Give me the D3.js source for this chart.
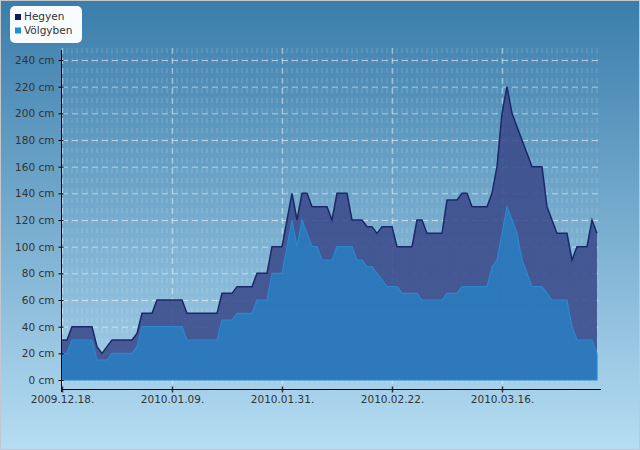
<!DOCTYPE html>
<html>
<head>
<meta charset="utf-8">
<script src="https://cdn.jsdelivr.net/npm/d3@7"></script>
<style>
  body { margin: 0; }
  svg { display: block; font-family: "DejaVu Sans", sans-serif; }
</style>
</head>
<body>
<svg width="640" height="450"></svg>
<script>
// snow depth, one value per day starting 2009.12.18.
const startDate = "2009.12.18.";
const seriesNames = ["Hegyen", "Völgyben"];
const hegyen = [30, 30, 40, 40, 40, 40, 40, 25, 20, 25,
  30, 30, 30, 30, 30, 35, 50, 50, 50, 60,
  60, 60, 60, 60, 60, 50, 50, 50, 50, 50,
  50, 50, 65, 65, 65, 70, 70, 70, 70, 80,
  80, 80, 100, 100, 100, 120, 140, 120, 140, 140,
  130, 130, 130, 130, 120, 140, 140, 140, 120, 120,
  120, 115, 115, 110, 115, 115, 115, 100, 100, 100,
  100, 120, 120, 110, 110, 110, 110, 135, 135, 135,
  140, 140, 130, 130, 130, 130, 140, 160, 200, 220,
  200, 190, 180, 170, 160, 160, 160, 130, 120, 110,
  110, 110, 90, 100, 100, 100, 120, 110];
const volgyben = [20, 20, 30, 30, 30, 30, 30, 15, 15, 15,
  20, 20, 20, 20, 20, 25, 40, 40, 40, 40,
  40, 40, 40, 40, 40, 30, 30, 30, 30, 30,
  30, 30, 45, 45, 45, 50, 50, 50, 50, 60,
  60, 60, 80, 80, 80, 100, 120, 100, 120, 110,
  100, 100, 90, 90, 90, 100, 100, 100, 100, 90,
  90, 85, 85, 80, 75, 70, 70, 70, 65, 65,
  65, 65, 60, 60, 60, 60, 60, 65, 65, 65,
  70, 70, 70, 70, 70, 70, 85, 90, 110, 130,
  120, 110, 90, 80, 70, 70, 70, 65, 60, 60,
  60, 60, 40, 30, 30, 30, 30, 20];
const xTickLabels = ["2009.12.18.", "2010.01.09.", "2010.01.31.", "2010.02.22.", "2010.03.16."];
const yTicks = [0, 20, 40, 60, 80, 100, 120, 140, 160, 180, 200, 220, 240];

const parse = d3.utcParse("%Y.%m.%d.");
const fmt = d3.utcFormat("%Y.%m.%d.");
const t0 = parse(startDate);
const rows = hegyen.map((h, i) => ({ date: d3.utcDay.offset(t0, i), h: h, v: volgyben[i] }));
const days = rows.map(d => d.date);

const W = 640, H = 450;
const plotLeft = 62, plotRight = 600, plotTop = 48, axisY = 390;

const svg = d3.select("svg");
const defs = svg.append("defs");
const bg = defs.append("linearGradient").attr("id", "bg")
  .attr("x1", 0).attr("y1", 0).attr("x2", 0).attr("y2", 1);
bg.append("stop").attr("offset", "0%").attr("stop-color", "#3a7dab");
bg.append("stop").attr("offset", "100%").attr("stop-color", "#b6ddf3");

svg.append("rect").attr("x", 0.5).attr("y", 0.5).attr("width", W - 1).attr("height", H - 1)
  .attr("fill", "url(#bg)").attr("stroke", "#c4c8cc");

const x = d3.scaleUtc()
  .domain([days[0], days[days.length - 1]])
  .range([plotLeft, plotLeft + 5 * (days.length - 1)]);
const y = d3.scaleLinear().domain([0, 240]).range([380, 60]);

// faint day grid
svg.append("g").selectAll("line")
  .data(days)
  .join("line")
  .attr("x1", d => x(d)).attr("x2", d => x(d))
  .attr("y1", plotTop).attr("y2", axisY)
  .attr("stroke", "#fff").attr("stroke-opacity", 0.13)
  .attr("stroke-width", 1.6)
  .attr("stroke-dasharray", "5,5");

// major grid
const tickDates = xTickLabels.map(parse);
svg.append("g").selectAll("line")
  .data(yTicks.filter(d => d > 0))
  .join("line")
  .attr("x1", plotLeft).attr("x2", plotRight)
  .attr("y1", d => y(d) + 0.5).attr("y2", d => y(d) + 0.5)
  .attr("stroke", "#fff").attr("stroke-opacity", 0.55)
  .attr("stroke-dasharray", "6,4");
svg.append("g").selectAll("line")
  .data(tickDates)
  .join("line")
  .attr("x1", d => x(d) + 0.5).attr("x2", d => x(d) + 0.5)
  .attr("y1", plotTop).attr("y2", axisY)
  .attr("stroke", "#fff").attr("stroke-opacity", 0.4)
  .attr("stroke-width", 1.5)
  .attr("stroke-dasharray", "6,4");

// areas
const areaH = d3.area().x(d => x(d.date)).y0(y(0)).y1(d => y(d.h));
const areaV = d3.area().x(d => x(d.date)).y0(y(0)).y1(d => y(d.v));
const lineH = d3.line().x(d => x(d.date)).y(d => y(d.h));

svg.append("path").datum(rows)
  .attr("d", areaH)
  .attr("fill", "#3a4a8a").attr("fill-opacity", 0.88);
svg.append("path").datum(rows)
  .attr("d", lineH)
  .attr("fill", "none").attr("stroke", "#1b2868").attr("stroke-width", 1.5);
svg.append("path").datum(rows)
  .attr("d", areaV)
  .attr("fill", "#2b7cbf").attr("fill-opacity", 0.9)
  .attr("stroke", "#2a88d0").attr("stroke-width", 1.2);

// axes
const yAxis = d3.axisLeft(y).tickValues(yTicks)
  .tickSize(0).tickPadding(7).tickFormat(d => d + " cm");
const gy = svg.append("g").attr("transform", `translate(${plotLeft - 0.5},0)`).call(yAxis);
gy.select(".domain").remove();
gy.selectAll("text").attr("font-size", 10.5).attr("fill", "#333").attr("font-family", "DejaVu Sans");
gy.selectAll(".tick").append("line")
  .attr("x1", -3).attr("x2", 2).attr("stroke", "#000");
svg.append("line").attr("x1", plotLeft - 0.5).attr("x2", plotLeft - 0.5)
  .attr("y1", plotTop + 2).attr("y2", axisY + 2).attr("stroke", "#000");

const xAxis = d3.axisBottom(x).tickValues(tickDates)
  .tickSize(0).tickPadding(6).tickFormat(fmt);
const gx = svg.append("g").attr("transform", `translate(0,${axisY - 0.5})`).call(xAxis);
gx.select(".domain").remove();
gx.selectAll("text").attr("font-size", 10.5).attr("fill", "#333").attr("font-family", "DejaVu Sans");
gx.selectAll(".tick").append("line")
  .attr("y1", -3).attr("y2", 3).attr("stroke", "#333").attr("stroke-width", 1.5);
svg.append("line").attr("x1", plotLeft - 0.5).attr("x2", plotRight + 1)
  .attr("y1", axisY - 0.5).attr("y2", axisY - 0.5).attr("stroke", "#000");

// legend
const legendColors = ["#0e1a60", "#1d8fd8"];
svg.append("rect").attr("x", 10).attr("y", 6).attr("width", 72).attr("height", 37)
  .attr("rx", 5).attr("fill", "#f8fcff");
const lg = svg.append("g").selectAll("g")
  .data(seriesNames)
  .join("g")
  .attr("transform", (d, i) => `translate(15,${14 + i * 13.5})`);
lg.append("rect").attr("width", 6).attr("height", 6)
  .attr("fill", (d, i) => legendColors[i]);
lg.append("text").attr("x", 9).attr("y", 6.3)
  .attr("font-size", 10.5).attr("fill", "#333")
  .text(d => d);
</script>
</body>
</html>
